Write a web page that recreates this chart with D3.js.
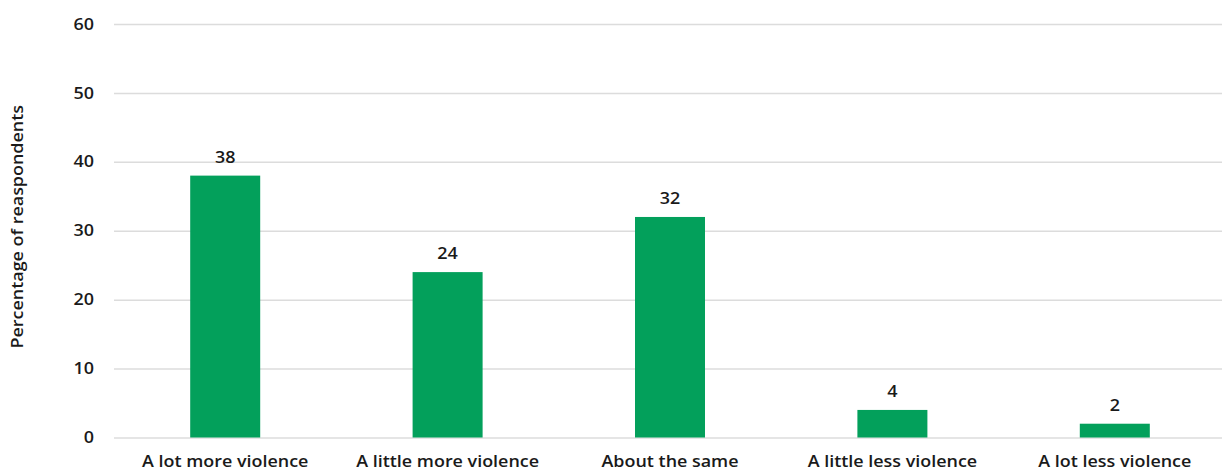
<!DOCTYPE html>
<html>
<head>
<meta charset="utf-8">
<script src="https://cdn.jsdelivr.net/npm/d3@7"></script>
<style>
  html, body { margin: 0; padding: 0; background: #ffffff; }
  svg { display: block; }
  text { font-family: "Open Sans", "Noto Sans", sans-serif; font-weight: 600; fill: #1a1a1a; }
</style>
</head>
<body>
<svg id="chart" width="1222" height="470"></svg>
<script>
// Survey responses: expected change in violence
const categories = ["A lot more violence", "A little more violence", "About the same", "A little less violence", "A lot less violence"];
const values = [38, 24, 32, 4, 2];
const yTicks = [0, 10, 20, 30, 40, 50, 60];
const yTitle = "Percentage of reaspondents";

const svg = d3.select("#chart");
const W = 1222, H = 470;
const plotLeft = 114, plotRight = 1226, plotTop = 24, plotBottom = 437.5;
const fontSize = 16;
const widen = 1.12; // set text a little wider than the regular face

const x = d3.scaleBand().domain(categories).range([plotLeft, plotRight]).padding(0);
const y = d3.scaleLinear().domain([0, 60]).range([plotBottom, plotTop]);
const barW = 70;

function stretch(sel) {
  sel.each(function () {
    const len = this.getComputedTextLength();
    d3.select(this).attr("textLength", len * widen).attr("lengthAdjust", "spacingAndGlyphs");
  });
}

// Horizontal gridlines with tick labels
const yAxis = d3.axisLeft(y).tickValues(yTicks).tickSize(-(W - plotLeft)).tickPadding(20);
const gy = svg.append("g").attr("transform", `translate(${plotLeft},0)`).call(yAxis);
gy.select(".domain").remove();
gy.selectAll(".tick line").attr("stroke", "#dcdcdc").attr("stroke-width", 1.5);
gy.selectAll(".tick text").attr("font-size", fontSize).style("fill", "#1a1a1a")
  .attr("font-family", null).call(stretch);

// Bars
svg.append("g").selectAll("rect").data(values).join("rect")
  .attr("x", (d, i) => x(categories[i]) + x.bandwidth() / 2 - barW / 2)
  .attr("y", d => y(d))
  .attr("width", barW)
  .attr("height", d => y(0) - y(d))
  .attr("fill", "#03a05b");

// Value labels
svg.append("g").selectAll("text").data(values).join("text")
  .attr("x", (d, i) => x(categories[i]) + x.bandwidth() / 2)
  .attr("y", d => y(d) - 13)
  .attr("text-anchor", "middle")
  .attr("font-size", fontSize)
  .text(d => d)
  .call(stretch);

// Category axis labels
const xAxis = d3.axisBottom(x).tickSize(0).tickPadding(0);
const gx = svg.append("g").attr("transform", `translate(0,${plotBottom})`).call(xAxis);
gx.select(".domain").remove();
gx.selectAll(".tick text").attr("font-size", fontSize).attr("dy", null).attr("y", 29)
  .attr("font-family", null).style("fill", "#1a1a1a").call(stretch);

// Y-axis title
svg.append("text")
  .attr("transform", `translate(23,${(plotTop + plotBottom) / 2 - 4}) rotate(-90)`)
  .attr("text-anchor", "middle")
  .attr("font-size", fontSize)
  .text(yTitle)
  .call(stretch);
</script>
</body>
</html>
